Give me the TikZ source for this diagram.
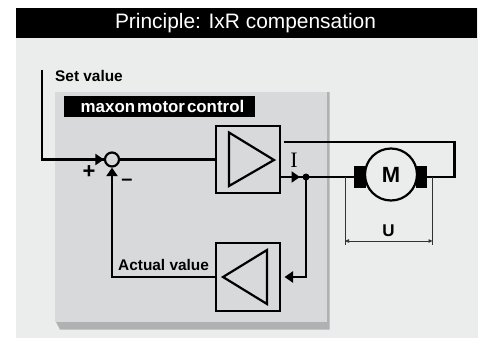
\documentclass[tikz,border=0pt]{standalone}
\usepackage{fontspec}
\setmainfont{Liberation Sans}
\newfontfamily\serifI{Liberation Serif}
\usetikzlibrary{arrows.meta, positioning}
\definecolor{paneBg}{RGB}{235,237,236}
\definecolor{ctrlBg}{RGB}{216,217,219}
\definecolor{ctrlShadow}{RGB}{176,177,178}
\tikzset{
    wire/.style={line width=2.4pt, black},
    wireA/.style={wire, -{Triangle[length=8.5pt,width=11pt]}, shorten >=0pt},
    dim/.style={line width=0.6pt, black!80},
    block/.style={draw, line width=2.2pt, fill=ctrlBg, minimum width=64.5pt, minimum height=67.5pt, inner sep=0pt},
    amp/.style={draw, line width=2.2pt, line join=miter},
    lbl/.style={font=\bfseries\fontsize{15.4}{16}\selectfont, inner sep=0pt},
}
\begin{document}
\begin{tikzpicture}[x=1pt, y=-1pt]
    \useasboundingbox (0,0) rectangle (485,338);
    % backgrounds
    \fill[paneBg] (16,8) rectangle (478,338);
    \fill[ctrlShadow] (56,322) -- (60,329.5) -- (329.5,329.5) -- (329.5,92) -- (327,92) -- (327,322) -- cycle;
    \fill[ctrlBg] (55,92) rectangle (327,322);
    \node[fill=black, text=white, minimum width=461pt, minimum height=30pt, inner sep=0pt, font=\fontsize{20.9}{24}\selectfont] (title) at (246.5,23) {Principle: IxR compensation\hspace*{2pt}};
    \node[fill=black, text=white, minimum width=191pt, minimum height=21pt, inner sep=0pt, font=\bfseries\fontsize{16.9}{18}\selectfont] (ctrl) at (159.5,106) {\hspace*{6pt}maxon\hspace{2pt}motor\hspace{2pt}control};
    % blocks
    \node[block] (ampU) at (248,159.5) {};
    \node[block] (ampL) at (248,277) {};
    \draw[amp] (229,132.5) -- (274,160) -- (229,186) -- cycle;
    \draw[amp] (267,250) -- (223,277) -- (267,304) -- cycle;
    \node[draw, circle, line width=2.2pt, fill=ctrlBg, minimum size=14pt, inner sep=0pt] (sum) at (112,159.5) {};
    % motor
    \node[fill=black, minimum width=12pt, minimum height=22.5pt, inner sep=0pt] (brushL) at (360,177) {};
    \node[fill=black, minimum width=11.5pt, minimum height=22.5pt, inner sep=0pt] (brushR) at (421.5,177) {};
    \node[draw, circle, line width=2.2pt, fill=paneBg, minimum size=52pt, inner sep=0pt, font=\bfseries\fontsize{22}{24}\selectfont] (motor) at (391,174.5) {M};
    \coordinate (setTop) at (42,70);
    \coordinate (setBend) at (42,159.5);
    \coordinate (outL) at (ampU.east |- brushL);
    \coordinate (node1) at (306,177);
    \coordinate (arrI) at (300,177);
    \coordinate (fbBend) at (306,277);
    \coordinate (fbEnd) at (284.5,277);
    \coordinate (actBend) at (112,277);
    \coordinate (topL) at (283.5,142);
    \coordinate (topR) at (454.5,142);
    \coordinate (botR) at (454.5,177);
    \coordinate (dimL) at (345,177);
    \coordinate (dimR) at (432.5,177);
    \coordinate (dimLb) at (345,245);
    \coordinate (dimRb) at (432.5,245);
    \coordinate (dimLa) at (345,241);
    \coordinate (dimRa) at (432.5,241);
    % wires
    \draw[wire, line join=miter] (setTop) -- (setBend) -- (sum.west);
    \draw[wireA] (setBend) -- (sum.west);
    \draw[wire] (sum) -- (ampU);
    \draw[wire] (outL) -- (brushL);
    \draw[wireA] (outL) -- (arrI);
    \fill (node1) circle (3.5pt);
    \draw[wireA, line join=miter] (node1) -- (fbBend) -- (fbEnd);
    \draw[wireA, line join=miter] (ampL.west) -- (actBend) -- (sum.south);
    \draw[wire, line join=miter] (topL) -- (topR) -- (botR) -- (brushR);
    % voltage
    \draw[dim] (dimL) -- (dimLb);
    \draw[dim] (dimR) -- (dimRb);
    \draw[dim, {Triangle[length=4pt,width=3.5pt]}-{Triangle[length=4pt,width=3.5pt]}] (dimLa) -- (dimRa);
    % labels
    \node[lbl, anchor=west] (setLbl) at (55,76) {Set value};
    \node[lbl, anchor=west] (actLbl) at (118,264.5) {Actual value};
    \node[lbl, font=\bfseries\fontsize{17}{18}\selectfont] (uLbl) at (388.5,231) {U};
    \node[inner sep=0pt, font=\serifI\fontsize{22}{22}\selectfont] (iLbl) at (294,160) {I};
    \node[inner sep=0pt, font=\bfseries\fontsize{22}{22}\selectfont] (plus) at (89,172) {+};
    \node[inner sep=0pt, font=\bfseries\fontsize{20}{20}\selectfont] (minus) at (127,182) {\textendash};
\end{tikzpicture}
\end{document}
